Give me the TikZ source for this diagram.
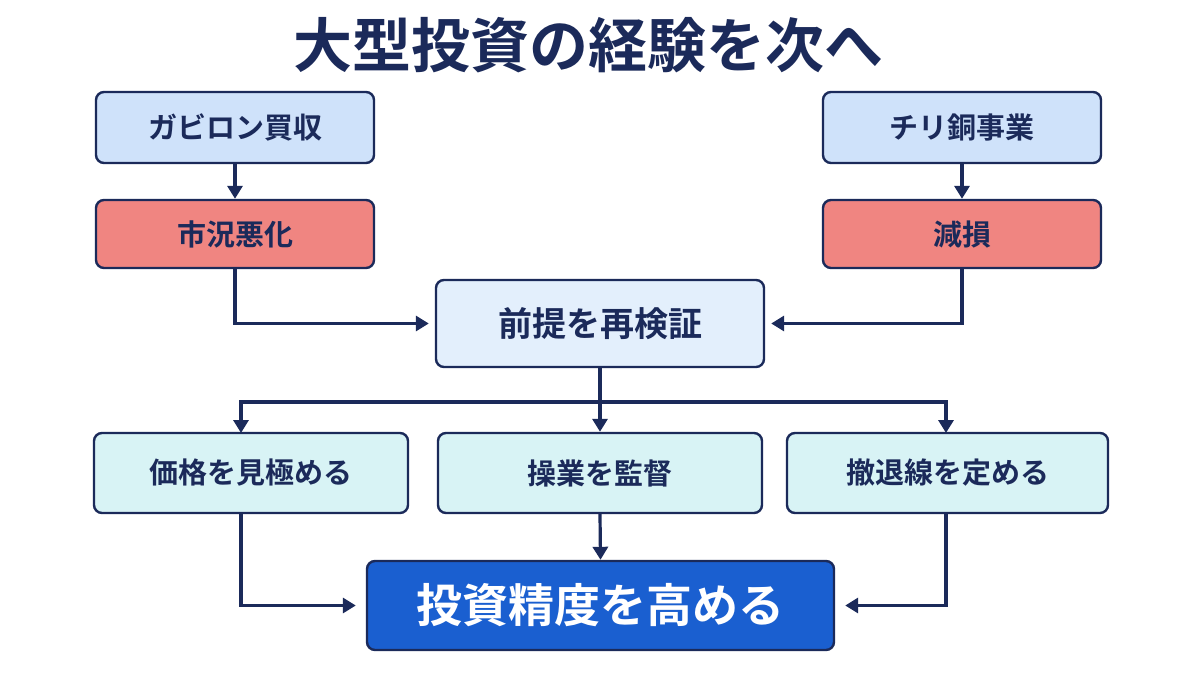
\documentclass[tikz,border=0pt]{standalone}
\usepackage{fontspec}
\setmainfont{Noto Sans CJK JP}[BoldFont={* Bold}]
\usetikzlibrary{arrows.meta}
\definecolor{navy}{HTML}{1B2A5A}
\definecolor{boxa}{HTML}{CFE2FA}
\definecolor{boxr}{HTML}{F08581}
\definecolor{boxc}{HTML}{E3EFFC}
\definecolor{boxt}{HTML}{D8F3F5}
\definecolor{boxb}{HTML}{1A5FD0}
\begin{document}
\begin{tikzpicture}[x=1pt,y=-1pt,
  box/.style={draw=navy,line width=2.4pt,rounded corners=8pt,inner sep=0pt,font=\bfseries\fontsize{29}{32}\selectfont,text=navy},
  arr/.style={draw=navy,line width=3.2pt,-{Triangle[length=13pt,width=15pt]}},
  ln/.style={draw=navy,line width=3.2pt}]
\useasboundingbox (0,0) rectangle (1200,675);
\fill[white] (0,0) rectangle (1200,675);
\node[font=\bfseries\fontsize{59}{64}\selectfont,text=navy] (title) at (588,45) {大型投資の経験を次へ};
\node[box,fill=boxa,minimum width=278pt,minimum height=71pt] (g) at (235,127.5) {ガビロン買収};
\node[box,fill=boxr,minimum width=278pt,minimum height=68pt] (s) at (235,234) {市況悪化};
\node[box,fill=boxa,minimum width=278pt,minimum height=71pt] (c) at (962,127.5) {チリ銅事業};
\node[box,fill=boxr,minimum width=278pt,minimum height=68pt] (k) at (962,234) {減損};
\node[box,fill=boxc,minimum width=328pt,minimum height=87pt,font=\bfseries\fontsize{34}{38}\selectfont] (p) at (600,323.5) {前提を再検証};
\node[box,fill=boxt,minimum width=314pt,minimum height=80pt] (m1) at (251,473) {価格を見極める};
\node[box,fill=boxt,minimum width=324pt,minimum height=80pt] (m2) at (600,473) {操業を監督};
\node[box,fill=boxt,minimum width=321pt,minimum height=80pt] (m3) at (947.5,473) {撤退線を定める};
\node[box,fill=boxb,text=white,minimum width=467pt,minimum height=89pt,font=\bfseries\fontsize{46}{50}\selectfont] (f) at (600.5,605.5) {投資精度を高める};
\coordinate (j) at (600,402);
\draw[arr] (g.south) -- (s.north);
\draw[arr] (c.south) -- (k.north);
\draw[arr] (s.south) |- ([xshift=-6pt]p.west);
\draw[arr] (k.south) |- ([xshift=6pt]p.east);
\draw[ln] (p.south) -- (j);
\draw[arr] (j) -| (241,433);
\draw[arr] (j) -| (946,433);
\draw[arr] (j) -- (m2.north);
\draw[arr] (241,513) |- ([xshift=-10pt]f.west);
\draw[arr] (946,513) |- ([xshift=10pt]f.east);
\draw[arr] (m2.south) -- (f.north);
\end{tikzpicture}
\end{document}
